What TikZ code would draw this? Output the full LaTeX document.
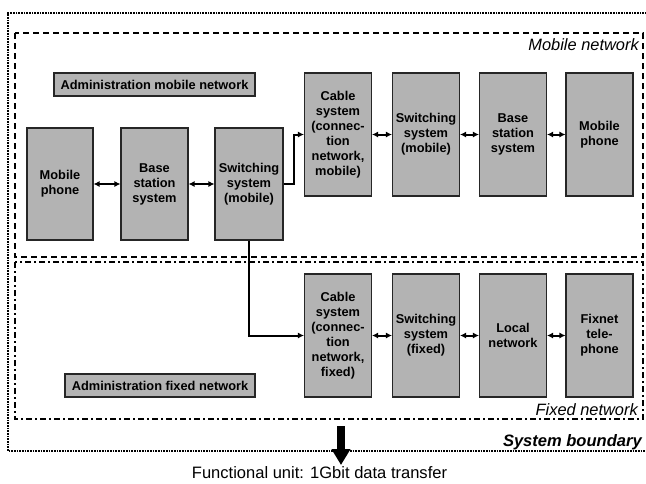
\documentclass[tikz,border=0pt]{standalone}
\usepackage{fontspec}
\setmainfont{Liberation Sans}
\usetikzlibrary{arrows.meta}
\definecolor{boxgray}{HTML}{B3B3B3}
\begin{document}
\begin{tikzpicture}[x=0.75pt,y=-0.75pt,
  box/.style={draw=black!85,line width=0.8pt,fill=boxgray,minimum width=50.25pt,inner sep=0pt,align=center,font=\fontsize{9.6}{11.25}\selectfont\bfseries},
  lowbox/.style={box,minimum height=84pt},
  tallbox/.style={box,minimum height=92.25pt},
  adminbox/.style={box,minimum height=17.25pt},
  dbl/.style={line width=1.5pt,{Latex[length=4.5pt,width=4.5pt]}-{Latex[length=4.5pt,width=4.5pt]}},
  conn/.style={line width=1.5pt,-{Latex[length=4.5pt,width=4.5pt]}},
  boundary/.style={line width=2pt,dash pattern=on 1.3pt off 0.7pt},
  mobileline/.style={line width=1.8pt,dash pattern=on 4.5pt off 3pt},
  fixedline/.style={line width=1.8pt,dash pattern=on 4.5pt off 2.25pt on 1.5pt off 2.25pt},
  zonelabel/.style={inner sep=0pt,font=\fontsize{12.3}{14}\selectfont\itshape},
]
\useasboundingbox[fill=white] (0,0) rectangle (646,483);

% boundaries
\draw[boundary] (652,13) -- (8,13) -- (8,451) -- (652,451);
\draw[mobileline] (15,33) rectangle (643,257);
\draw[fixedline] (15,262) rectangle (643,419);

\node[zonelabel,anchor=base east] (mobnet) at (639,50) {Mobile network};
\node[zonelabel,anchor=base east] (fixnet) at (638,415) {Fixed network};
\node[zonelabel,anchor=base east,font=\fontsize{12.4}{14}\selectfont\bfseries\itshape] (sysb) at (642,446) {System boundary};

% admin boxes
\node[adminbox,minimum width=150.75pt] (admm) at (154.5,84.5) {Administration mobile network};
\node[adminbox,minimum width=142.5pt] (admf) at (160,385.5) {Administration fixed network};

% mobile lower row
\node[lowbox,minimum width=49.5pt] (mp1) at (60,184) {Mobile\\phone};
\node[lowbox] (bs1) at (154.5,184) {Base\\station\\system};
\node[lowbox,minimum width=51pt] (sw1) at (249,184) {Switching\\system\\(mobile)};

% mobile upper row
\node[tallbox] (cab1) at (338,134.5) {Cable\\system\\(connec-\\tion\\network,\\mobile)};
\node[tallbox] (sw2) at (426,134.5) {Switching\\system\\(mobile)};
\node[tallbox] (bs2) at (513,134.5) {Base\\station\\system};
\node[tallbox] (mp2) at (599.5,134.5) {Mobile\\phone};

% fixed row
\node[tallbox] (cab2) at (338,335.5) {Cable\\system\\(connec-\\tion\\network,\\fixed)};
\node[tallbox] (sw3) at (426,335.5) {Switching\\system\\(fixed)};
\node[tallbox] (ln) at (513,335.5) {Local\\network};
\node[tallbox] (ft) at (599.5,335.5) {Fixnet\\tele-\\phone};

% connectors
\draw[dbl] (mp1) -- (bs1);
\draw[dbl] (bs1) -- (sw1);
\draw[conn] (sw1.east) -- ++(10,0) |- (cab1.west);
\draw[dbl] (cab1) -- (sw2);
\draw[dbl] (sw2) -- (bs2);
\draw[dbl] (bs2) -- (mp2);
\draw[conn] (sw1.south) |- (cab2.west);
\draw[dbl] (cab2) -- (sw3);
\draw[dbl] (sw3) -- (ln);
\draw[dbl] (ln) -- (ft);

% functional unit
\node[inner sep=0pt,font=\fontsize{12.4}{14}\selectfont] (fu) at (319.5,473) {Functional unit: 1Gbit data transfer};
\coordinate (fuA) at (341,426);
\coordinate (fuB) at (341,465);
\draw[line width=6pt,-{Triangle[length=12pt,width=13.5pt]}] (fuA) -- (fuB);
\end{tikzpicture}
\end{document}
